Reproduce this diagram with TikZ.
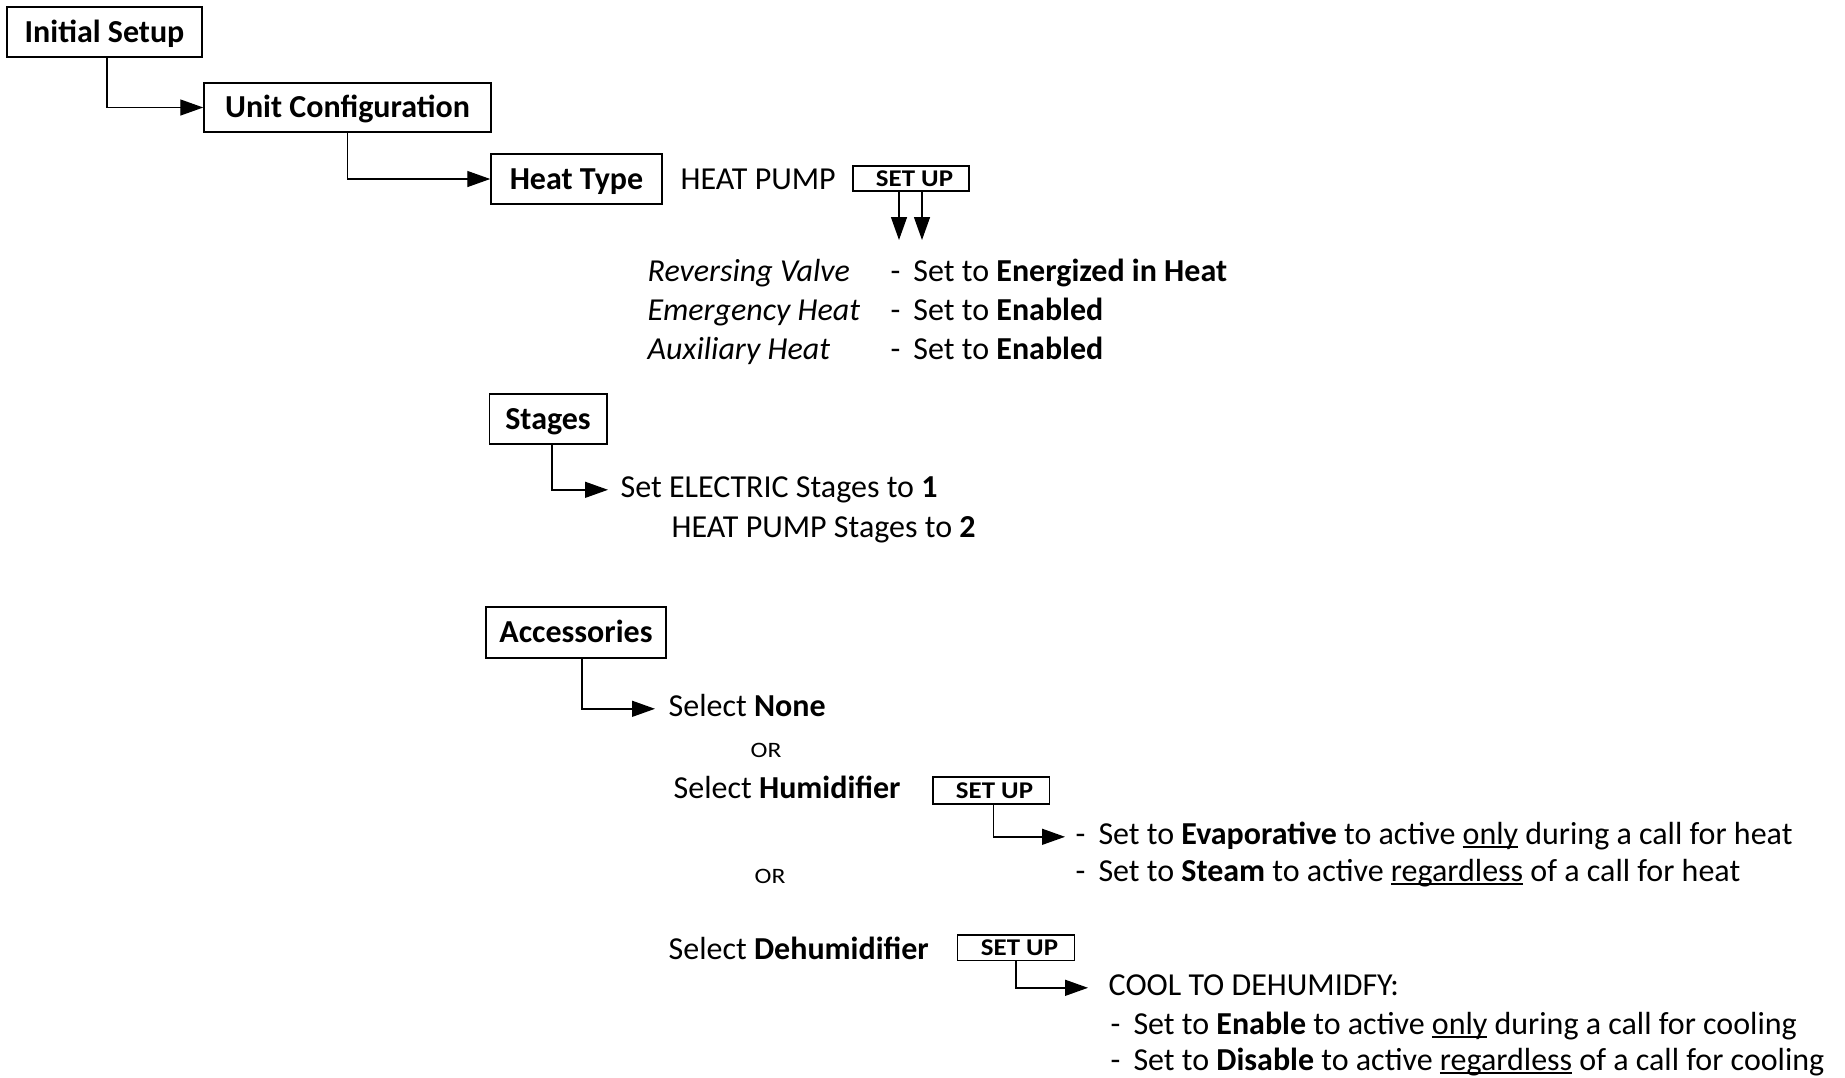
\documentclass[tikz,border=0pt]{standalone}
\usepackage{fontspec}
\setmainfont{Carlito}
\newfontfamily\widefont{Carlito}[FakeStretch=1.16]
\newfontfamily\setupfont{Carlito}[FakeStretch=1.12]
\usetikzlibrary{arrows.meta}
\newcommand{\undl}[1]{\setbox0\hbox{#1}\rlap{\rule[-1.8pt]{\wd0}{0.7pt}}\box0\relax}
\begin{document}
\begin{tikzpicture}[x=0.5pt,y=-0.5pt,
  font=\fontsize{16}{19}\selectfont,
  line width=0.7pt,
  arr/.style={-{Triangle[length=11.5pt,width=8pt]}},
  box/.style={draw, line width=0.75pt, font=\fontsize{16}{19}\selectfont\bfseries, inner sep=0, text height=12.8pt, text depth=2.5pt},
  subbox/.style={draw, line width=0.75pt, font=\fontsize{12}{14}\setupfont\bfseries, inner sep=0, text height=8pt, text depth=0.3pt},
  tx/.style={anchor=base west, inner sep=0},
  tgt/.style={anchor=base west, inner ysep=0, text height=7.2pt, text depth=0pt},
  small/.style={anchor=base west, inner sep=0, font=\fontsize{11}{13}\widefont},
  it/.style={anchor=base west, inner sep=0, font=\fontsize{16}{19}\selectfont\itshape},
]
\useasboundingbox (0,0) rectangle (1845,1077);

% top chain
\node[box, minimum width=97.5pt, minimum height=25pt] (init) at (104.5,32) {Initial Setup};
\node[box, minimum width=143.5pt, minimum height=24.5pt] (unit) at (347.5,107.5) {Unit Configuration};
\node[box, minimum width=85.5pt, minimum height=25pt] (heat) at (576.5,179) {Heat Type};
\draw[arr] ([xshift=1.2pt]init.south) |- (unit.west);
\draw[arr] (unit.south) |- (heat.west);

\node[tx] (hp) at (680,189) {HEAT PUMP};
\node[subbox, minimum width=58pt, minimum height=12.5pt] (su1) at (911,178.5) {\hspace{3.5pt}SET UP};
\coordinate (d1) at (899,240);
\coordinate (d2) at (922,240);
\draw[arr] (su1.south -| d1) -- (d1);
\draw[arr] (su1.south -| d2) -- (d2);

\node[it] (rv) at (647,281) {Reversing Valve};
\node[tx] (rvs) at (890,281) {-\hspace{6.5pt}Set to \textbf{Energized in Heat}};
\node[it] (eh) at (647,320) {Emergency Heat};
\node[tx] (ehs) at (890,320) {-\hspace{6.5pt}Set to \textbf{Enabled}};
\node[it] (ax) at (647,359) {Auxiliary Heat};
\node[tx] (axs) at (890,359) {-\hspace{6.5pt}Set to \textbf{Enabled}};

% stages
\node[box, minimum width=58.75pt, minimum height=25pt] (stg) at (548,419) {Stages};
\node[tgt, inner xsep=6pt] (se) at (608,497) {Set ELECTRIC Stages to \textbf{1}};
\node[tx] (hps) at (671,537) {HEAT PUMP Stages to \textbf{2}};
\draw[arr] ([xshift=2pt]stg.south) |- (se.west);

% accessories
\node[box, minimum width=90pt, minimum height=25.5pt] (acc) at (576,632.5) {Accessories};
\node[tgt, inner xsep=6.5pt] (none) at (655,716) {Select \textbf{None}};
\draw[arr] ([xshift=3pt]acc.south) |- (none.west);
\node[small] (or1) at (750,757) {OR};

\node[tx] (hum) at (673,798) {Select \textbf{Humidifier}};
\node[subbox, minimum width=58.25pt, minimum height=13.5pt] (su2) at (991,790.5) {\hspace{3.5pt}SET UP};
\node[tgt, inner xsep=5pt] (evap) at (1065,844) {-\hspace{6.5pt}Set to \textbf{Evaporative} to active \undl{only} during a call for heat};
\draw[arr] ([xshift=1.2pt]su2.south) |- (evap.west);
\node[tx] (steam) at (1075,881) {-\hspace{6.5pt}Set to \textbf{Steam} to active \undl{regardless} of a call for heat};
\node[small] (or2) at (754,883) {OR};

\node[tx] (dehum) at (668,959) {Select \textbf{Dehumidifier}};
\node[subbox, minimum width=58.5pt, minimum height=12.75pt] (su3) at (1016,947.5) {\hspace{3.5pt}SET UP};
\node[tgt, inner xsep=10pt] (cool) at (1088,995) {COOL TO DEHUMIDFY:};
\draw[arr] (su3.south) |- (cool.west);
\node[tx] (en) at (1110,1034) {-\hspace{6.5pt}Set to \textbf{Enable} to active \undl{only} during a call for cooling};
\node[tx] (dis) at (1110,1070) {-\hspace{6.5pt}Set to \textbf{Disable} to active \undl{regardless} of a call for cooling};
\end{tikzpicture}
\end{document}
